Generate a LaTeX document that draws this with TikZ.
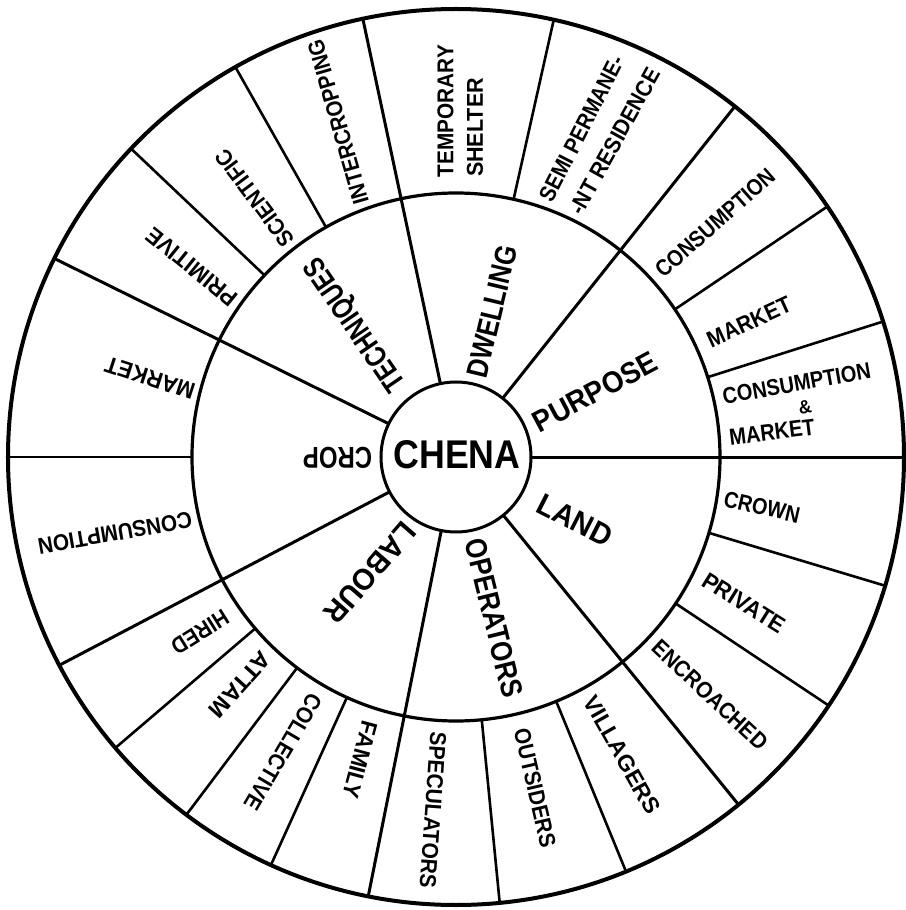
\documentclass[tikz,border=0pt]{standalone}
\usepackage{fontspec}
\setmainfont{Liberation Sans}
\usepackage{graphicx}
\newcommand{\fitlab}[3]{\resizebox{#1pt}{#2pt}{#3}}
\newcommand{\olabtext}[2]{\fitlab{#1}{16}{\bfseries #2}}
\newcommand{\ilabtext}[2]{\fitlab{#1}{21}{\bfseries #2}}
\begin{document}
\begin{tikzpicture}[x=1pt,y=1pt,
  ringline/.style={draw=black, circle, outer sep=0pt, inner sep=0pt},
  spoke/.style={line width=3pt},
  divider/.style={line width=2.6pt},
  olab/.style={inner sep=0pt, font=\fontsize{22}{26}\selectfont},
  ilab/.style={inner sep=0pt, font=\fontsize{28}{32}\selectfont},
]
\useasboundingbox (-456,-453) rectangle (449,457);
% rings
\node[ringline, line width=4pt, minimum size=896pt] (rim) at (0,0) {};
\node[ringline, line width=3.2pt, minimum size=528pt] (ring) at (0,0) {};
\node[ringline, line width=3pt, minimum size=150pt] (hub) at (0,0) {};
\node[inner sep=0pt] (chena) at (1,2) {\fitlab{127}{28}{\bfseries CHENA}};
% main spokes
\foreach \a in {0,51.5,102,153.7,207.7,258.7,-50.9}
  \draw[spoke] (\a:75) -- (\a:448);
% outer dividers
\foreach \a in {17.6,34,77.4,119.5,136.5,180,220.5,233,245.6,-16.7,-33.7,-67.7,-84.4}
  \draw[divider] (\a:264) -- (\a:448);
% inner labels
\node[ilab, rotate=180]   (crop) at (-118.5,-0.5) {\ilabtext{69}{CROP}};
\node[ilab, rotate=124.5] (tech) at (-99.5,133.5) {\ilabtext{156}{TECHNIQUES}};
\node[ilab, rotate=76.6]  (dwel) at (36,145.5) {\ilabtext{135}{DWELLING}};
\node[ilab, rotate=28]    (purp) at (139,65) {\ilabtext{136}{PURPOSE}};
\node[ilab, rotate=-27]   (land) at (119,-63) {\ilabtext{80}{LAND}};
\node[ilab, rotate=-76]   (oper) at (38,-161) {\ilabtext{162}{OPERATORS}};
\node[ilab, rotate=-131]  (labo) at (-86,-116) {\ilabtext{123}{LABOUR}};
% outer labels
\node[olab, rotate=162]   (cmarket) at (-306,79) {\olabtext{93}{MARKET}};
\node[olab, rotate=190]   (ccons) at (-341,-76) {\olabtext{156}{CONSUMPTION}};
\node[olab, rotate=141]   (tprim) at (-264,190) {\olabtext{110}{PRIMITIVE}};
\node[olab, rotate=127]   (tscie) at (-201,259) {\olabtext{115}{SCIENTIFIC}};
\node[olab, rotate=106]   (tinte) at (-118,335) {\olabtext{170}{INTERCROPPING}};
\node[olab, rotate=90]    (dtemp) at (-10.5,346) {\olabtext{132}{TEMPORARY}};
\node[olab, rotate=90]    (dshel) at (19,329.5) {\olabtext{99}{SHELTER}};
\node[olab, rotate=63]    (dsemi) at (125.5,328.5) {\olabtext{160}{SEMI PERMANE-}};
\node[olab, rotate=61]    (dresi) at (159,316) {\olabtext{163}{-NT RESIDENCE}};
\node[olab, rotate=41.5]  (pcons) at (259,234) {\olabtext{151}{CONSUMPTION}};
\node[olab, rotate=24.6]  (pmark) at (293,135) {\olabtext{90}{MARKET}};
\node[olab, rotate=10]    (pcm1) at (340.7,73.5) {\olabtext{150}{CONSUMPTION}};
\node[olab, rotate=9]     (pcm2) at (349,50) {\fitlab{13}{13}{\bfseries\&}};
\node[olab, rotate=7]     (pcm3) at (316,25) {\olabtext{86}{MARKET}};
\node[olab, rotate=-13]   (lcrow) at (306,-50) {\olabtext{77}{CROWN}};
\node[olab, rotate=-32]   (lpriv) at (288,-146) {\olabtext{93}{PRIVATE}};
\node[olab, rotate=-43]   (lencr) at (254,-238) {\olabtext{149}{ENCROACHED}};
\node[olab, rotate=-60.5] (ovill) at (166,-298) {\olabtext{132}{VILLAGERS}};
\node[olab, rotate=-77]   (oouts) at (79,-331) {\olabtext{121}{OUTSIDERS}};
\node[olab, rotate=-94]   (ospec) at (-23,-353) {\olabtext{157}{SPECULATORS}};
\node[olab, rotate=-105]  (afami) at (-96,-303) {\olabtext{79}{FAMILY}};
\node[olab, rotate=-120.5] (acoll) at (-173,-295) {\olabtext{131}{COLLECTIVE}};
\node[olab, rotate=-132]  (aatta) at (-216,-228) {\olabtext{80}{ATTAM}};
\node[olab, rotate=-148]  (ahire) at (-256,-175) {\olabtext{63}{HIRED}};
\end{tikzpicture}
\end{document}
